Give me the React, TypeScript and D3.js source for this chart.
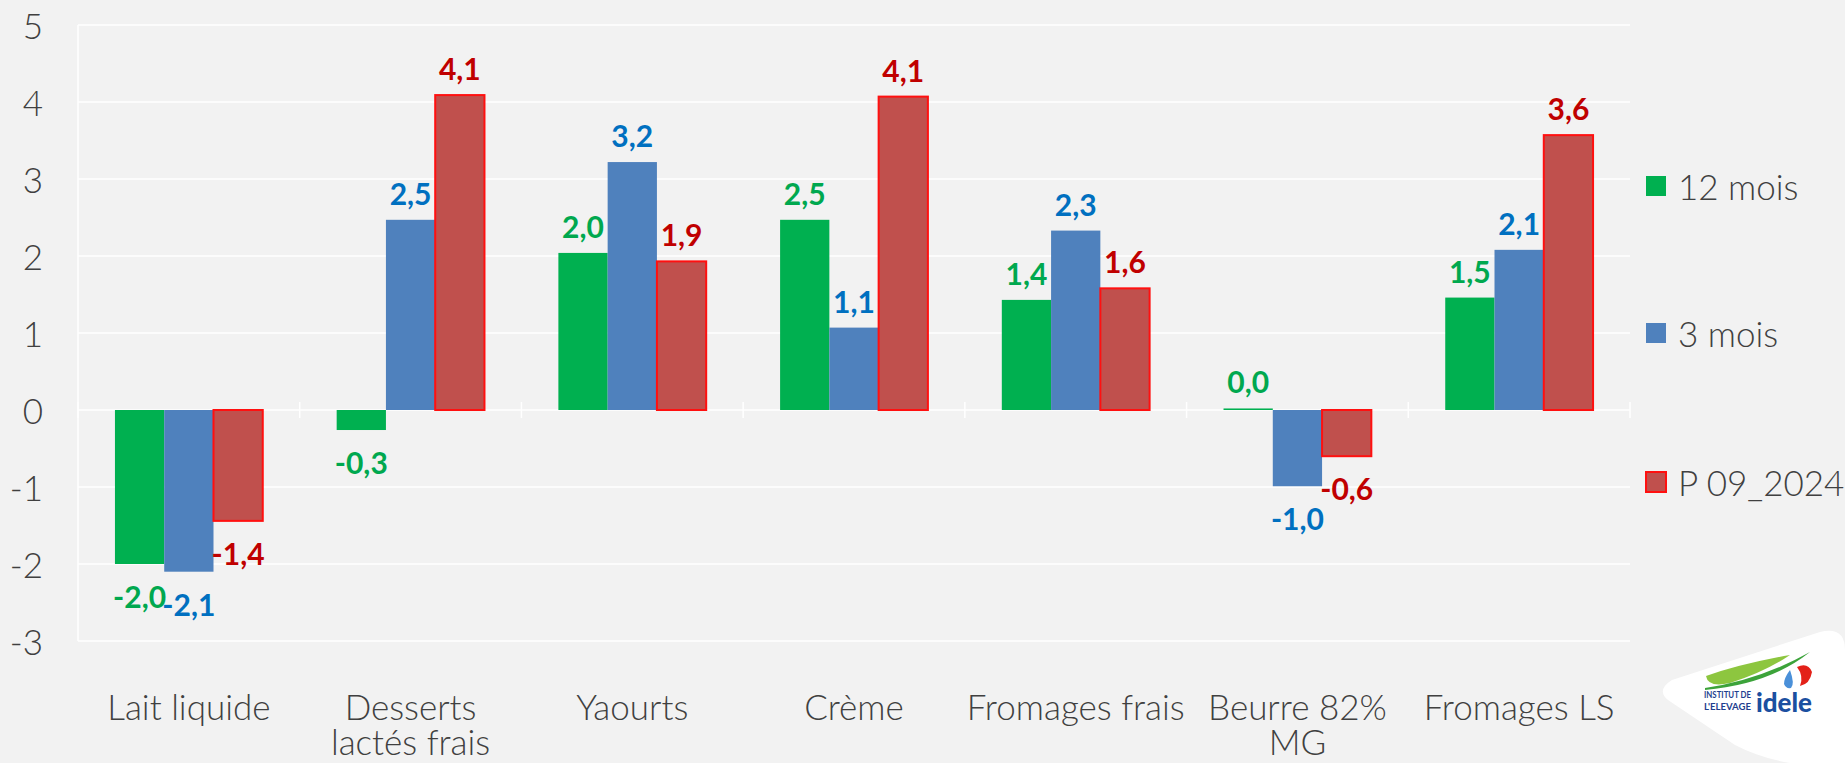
import React, { useEffect, useRef } from "react";
import * as d3 from "d3";

// categories and series
const categories = [
  "Lait liquide",
  "Desserts\nlactés frais",
  "Yaourts",
  "Crème",
  "Fromages frais",
  "Beurre 82%\nMG",
  "Fromages LS",
];
const seriesNames = ["12 mois", "3 mois", "P 09_2024"];
const mois12 = [-2.0, -0.26, 2.04, 2.47, 1.43, 0.02, 1.46];
const mois3 = [-2.1, 2.47, 3.22, 1.07, 2.33, -0.99, 2.08];
const p092024 = [-1.44, 4.09, 1.93, 4.07, 1.58, -0.6, 3.57];
const yTicks = [-3, -2, -1, 0, 1, 2, 3, 4, 5];

const fills = ["#00B050", "#4F81BD", "#C0504D"];
const strokes = ["none", "none", "#FF1010"];
const labelColors = ["#00A84F", "#0070C0", "#C00000"];

const W = 1845;
const H = 763;
const FONT = "Lato, 'Open Sans', sans-serif";

export default function App() {
  const ref = useRef<SVGSVGElement>(null);

  useEffect(() => {
    document.body.style.margin = "0";
    const svg = d3.select(ref.current);
    svg.selectAll("*").remove();

    const left = 78, right = 1630, top = 25, bottom = 641;
    const x = d3.scaleBand().domain(categories).range([left, right]).paddingInner(1 / 3).paddingOuter(1 / 6);
    const xs = d3.scaleBand().domain(seriesNames).range([0, x.bandwidth()]);
    const y = d3.scaleLinear().domain([-3, 5]).range([bottom, top]);

    svg.append("rect").attr("width", W).attr("height", H).attr("fill", "#F2F2F2");

    // gridlines
    const g = svg.append("g");
    g.selectAll("line.grid")
      .data(yTicks)
      .join("line")
      .attr("class", "grid")
      .attr("x1", left).attr("x2", right)
      .attr("y1", (d) => y(d)).attr("y2", (d) => y(d))
      .attr("stroke", "#FFFFFF").attr("stroke-width", 1.5);
    g.append("line")
      .attr("x1", left).attr("x2", left)
      .attr("y1", y(5)).attr("y2", y(-3))
      .attr("stroke", "#FFFFFF").attr("stroke-width", 1.5);
    // small ticks on the zero line between categories
    const step = x.step();
    g.selectAll("line.tick")
      .data(d3.range(categories.length + 1))
      .join("line")
      .attr("class", "tick")
      .attr("x1", (i) => left + i * step).attr("x2", (i) => left + i * step)
      .attr("y1", y(0) - 8).attr("y2", y(0) + 8)
      .attr("stroke", "#FFFFFF").attr("stroke-width", 1.5);

    // y tick labels
    g.selectAll("text.ytick")
      .data(yTicks)
      .join("text")
      .attr("class", "ytick")
      .attr("x", 43)
      .attr("y", (d) => y(d))
      .attr("text-anchor", "end")
      .attr("dominant-baseline", "central")
      .attr("font-family", FONT)
      .attr("font-weight", 300)
      .attr("font-size", 35)
      .attr("fill", "#404040")
      .text((d) => String(d));

    // bars
    const allSeries = [mois12, mois3, p092024];
    allSeries.forEach((vals, si) => {
      const sg = svg.append("g");
      const bars = vals.map((v, i) => ({ v, c: categories[i] }));
      sg.selectAll("rect")
        .data(bars)
        .join("rect")
        .attr("x", (d) => (x(d.c) as number) + (xs(seriesNames[si]) as number))
        .attr("y", (d) => Math.min(y(d.v), y(0)))
        .attr("width", xs.bandwidth())
        .attr("height", (d) => Math.max(Math.abs(y(d.v) - y(0)), 1.5))
        .attr("fill", fills[si])
        .attr("stroke", strokes[si])
        .attr("stroke-width", 2);

      sg.selectAll("text")
        .data(bars)
        .join("text")
        .attr("x", (d) => (x(d.c) as number) + (xs(seriesNames[si]) as number) + xs.bandwidth() / 2)
        .attr("y", (d) => (d.v >= 0 ? y(d.v) - 15 : y(d.v) + 44))
        .attr("text-anchor", "middle")
        .attr("font-family", FONT)
        .attr("font-weight", "bold")
        .attr("font-size", 30)
        .attr("fill", labelColors[si])
        .text((d) => d.v.toFixed(1).replace(".", ","));
    });

    // category labels, one text per line
    const cg = svg.append("g");
    categories.forEach((c) => {
      c.split("\n").forEach((line, li) => {
        cg.append("text")
          .attr("x", (x(c) as number) + x.bandwidth() / 2)
          .attr("y", 720 + li * 35)
          .attr("text-anchor", "middle")
          .attr("font-family", FONT)
          .attr("font-weight", 300)
          .attr("font-size", 35)
          .attr("fill", "#404040")
          .text(line);
      });
    });

    // legend
    const legendY = [186, 333, 482];
    const lg = svg.append("g");
    seriesNames.forEach((s, i) => {
      lg.append("rect")
        .attr("x", 1646).attr("y", legendY[i] - 10)
        .attr("width", 20).attr("height", 20)
        .attr("fill", fills[i])
        .attr("stroke", strokes[i]).attr("stroke-width", 2);
      lg.append("text")
        .attr("x", 1678).attr("y", legendY[i])
        .attr("dominant-baseline", "central")
        .attr("font-family", FONT)
        .attr("font-weight", 300)
        .attr("font-size", 35)
        .attr("fill", "#404040")
        .text(s);
    });

    // logo
    const logo = svg.append("g");
    logo.append("path")
      .attr("d", "M1668,700 Q1656,690 1672,680 L1820,632 Q1845,626 1845,650 L1845,763 L1790,763 Q1760,758 1735,745 Z")
      .attr("fill", "#FFFFFF");
    logo.append("path")
      .attr("d", "M1706,676 Q1740,664 1790,655 Q1765,672 1730,683 Q1708,688 1706,676 Z")
      .attr("fill", "#8DC63F");
    logo.append("path")
      .attr("d", "M1705,688 Q1760,680 1810,652 Q1770,684 1705,690 Z")
      .attr("fill", "#3CA33A");
    logo.append("path")
      .attr("d", "M1797,667 Q1808,662 1812,672 Q1810,684 1800,686 Q1804,676 1797,667 Z")
      .attr("fill", "#E32119");
    logo.append("path")
      .attr("d", "M1790,670 Q1784,678 1784,684 Q1786,689 1791,688 Q1795,684 1790,670 Z")
      .attr("fill", "#4A90D9");
    logo.append("text")
      .attr("x", 1704).attr("y", 698)
      .attr("font-family", FONT).attr("font-weight", "bold").attr("font-size", 9)
      .attr("textLength", 47).attr("lengthAdjust", "spacingAndGlyphs")
      .attr("fill", "#1F3F8F").text("INSTITUT DE");
    logo.append("text")
      .attr("x", 1704).attr("y", 710)
      .attr("font-family", FONT).attr("font-weight", "bold").attr("font-size", 9)
      .attr("textLength", 47).attr("lengthAdjust", "spacingAndGlyphs")
      .attr("fill", "#1F3F8F").text("L'ELEVAGE");
    logo.append("text")
      .attr("x", 1756).attr("y", 712)
      .attr("font-family", FONT).attr("font-weight", "900").attr("font-size", 26)
      .attr("textLength", 56).attr("lengthAdjust", "spacingAndGlyphs")
      .attr("fill", "#1B4FA0").text("idele");
  }, []);

  return <svg ref={ref} width={W} height={H} style={{ display: "block" }} />;
}
